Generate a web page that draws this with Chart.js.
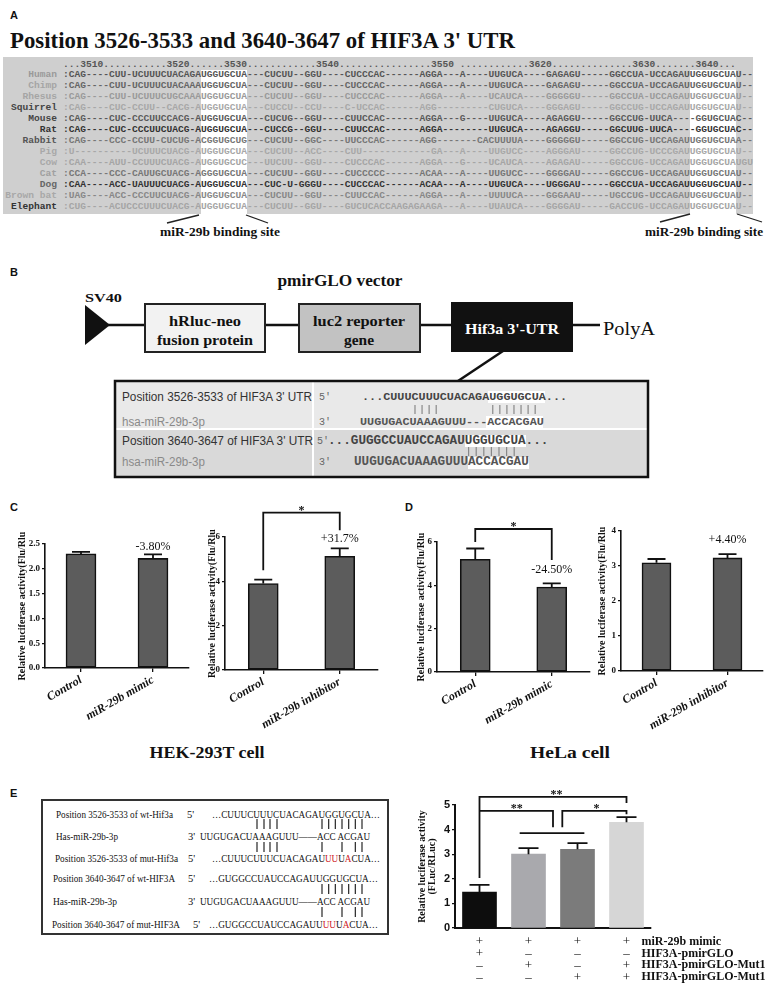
<!DOCTYPE html>
<html>
<head>
<meta charset="utf-8">
<script src="https://cdn.jsdelivr.net/npm/chart.js@4.4.0/dist/chart.umd.min.js"></script>
<style>
html, body { margin: 0; padding: 0; background: #fff; }
#page { position: relative; width: 767px; height: 991px; overflow: hidden; }
#art { position: absolute; left: 0; top: 0; }
canvas { position: absolute; }
</style>
</head>
<body>
<div id="page">
<svg id="art" width="767" height="991" xmlns="http://www.w3.org/2000/svg"></svg>
<canvas id="c1" style="left:0px;top:500px" width="200" height="230"></canvas>
<canvas id="c2" style="left:185px;top:490px" width="200" height="240"></canvas>
<canvas id="d1" style="left:395px;top:490px" width="200" height="240"></canvas>
<canvas id="d2" style="left:580px;top:490px" width="187" height="240"></canvas>
<canvas id="e1" style="left:395px;top:780px" width="372" height="211"></canvas>
</div>
<script>
/* valores */
var cLabels1 = ["Control", "miR-29b mimic"];
var cValues1 = [2.30, 2.21];
var cErrors1 = [0.04, 0.08];
var cPct1 = ["", "-3.80%"];

var cLabels2 = ["Control", "miR-29b inhibitor"];
var cValues2 = [3.90, 5.13];
var cErrors2 = [0.18, 0.36];
var cPct2 = ["", "+31.7%"];

var dLabels1 = ["Control", "miR-29b mimic"];
var dValues1 = [5.20, 3.92];
var dErrors1 = [0.50, 0.17];
var dPct1 = ["", "-24.50%"];

var dLabels2 = ["Control", "miR-29b inhibitor"];
var dValues2 = [3.09, 3.23];
var dErrors2 = [0.11, 0.11];
var dPct2 = ["", "+4.40%"];

var eGroups = ["1", "2", "3", "4"];
var eValues = [1.46, 3.00, 3.20, 4.30];
var eErrors = [0.29, 0.25, 0.25, 0.21];
var eRows = ["miR-29b mimic", "HIF3A-pmirGLO", "HIF3A-pmirGLO-Mut1", "HIF3A-pmirGLO-Mut1"];
var eSigns = [
	["+", "+", "+", "+"],
	["+", "\u2013", "\u2013", "\u2013"],
	["\u2013", "+", "\u2013", "+"],
	["\u2013", "\u2013", "+", "+"]
];

/* ---------- desenho em svg (paineis A, B e E) ---------- */
var svg = document.getElementById("art");
var NS = "http://www.w3.org/2000/svg";
function el(tag, attrs, parent) {
	var e = document.createElementNS(NS, tag);
	for (var k in attrs) e.setAttribute(k, attrs[k]);
	(parent || svg).appendChild(e);
	return e;
}
function txt(x, y, s, o) {
	o = o || {};
	var e = el("text", {
		x: x, y: y,
		"font-family": o.font || "Liberation Serif",
		"font-size": o.size || 12,
		"font-weight": o.weight || "normal",
		"font-style": o.style || "normal",
		fill: o.fill || "#111",
		"text-anchor": o.anchor || "start",
		"dominant-baseline": "central"
	});
	if (o.len) {
		e.setAttribute("textLength", o.len);
		e.setAttribute("lengthAdjust", "spacingAndGlyphs");
	}
	e.style.whiteSpace = "pre";
	e.textContent = s;
	return e;
}
function line(x1, y1, x2, y2, w, c) {
	el("line", { x1: x1, y1: y1, x2: x2, y2: y2, stroke: c || "#111", "stroke-width": w || 1 });
}
var MONO = "Liberation Mono";
var SANS = "Liberation Sans";

/* Painel A */
txt(10, 15, "A", { font: SANS, size: 11, weight: "bold" });
txt(10, 40, "Position 3526-3533 and 3640-3647 of HIF3A 3' UTR", { size: 23, weight: "bold", len: 505 });
el("rect", { x: 3, y: 57, width: 750, height: 157, fill: "#cfcfcf" });
el("rect", { x: 201, y: 70, width: 46, height: 144, fill: "#fff" });
el("rect", { x: 690, y: 70, width: 46, height: 144, fill: "#fff" });

var header = [];
for (var i = 0; i < 117; i++) header.push(".");
header[68] = " ";
[[3, "3510"], [18, "3520"], [28, "3530"], [44, "3540"], [64, "3550"], [81, "3620"], [99, "3630"], [110, "3640"]].forEach(function(p) {
	for (var j = 0; j < 4; j++) header[p[0] + j] = p[1][j];
});
header = header.join("");
txt(63, 64, header, { font: MONO, size: 9.6, weight: "bold", fill: "#555", len: header.length * 5.75 });

var species = [
	["Human", ":CAG----CUU-UCUUUCUACAGA", "UGGUGCUA", "---CUCUU--GGU----CUCCCAC------AGGA---A----UUGUCA----GAGAGU-----GGCCUA-UCCAGAU", "UGGUGCUA", "U--", "#9a9a9a", "#555"],
	["Chimp", ":CAG----CUU-UCUUUCUACAAA", "UGGUGCUA", "---CUCUU--GGU----CUCCCAC------AGGA---A----UUGUCA----GAGAGU-----GGCCUA-UCCAGAU", "UGGUGCUA", "U--", "#a5a5a5", "#666"],
	["Rhesus", ":CAG----CUU-UCUUUCUGCAAA", "UGGUGCUA", "---CUCUU--GGU----CUCCCAC------AGGA---A----UCAUCA----GGGGGU-----GGCCUA-UCCAGAU", "UGGUGCUA", "U--", "#a5a5a5", "#9a9a9a"],
	["Squirrel", ":CAG----CUC-CCUU--CACG-A", "UGGUGCUA", "---CUCCU--CCU----C-UCCAC------AGG---------CUGUCA----GGGAGU-----GGCCUG-UCCAGAU", "UGGUGCUA", "U--", "#444", "#a8a8a8"],
	["Mouse", ":CAG----CUC-CCCUUCCACG-A", "UGGUGCUA", "---CUCUG--GGU----CUUCCAC------AGGA---G----UUGUCA----AGAGGU-----GGCCUG-UUCA---", "-GGUGCUA", "C--", "#444", "#5a5a5a"],
	["Rat", ":CAG----CUC-CCCUUCUACG-A", "UGGUGCUA", "---CUCCG--GGU----CUUCCAC------AGGA--------UUGUCA----AGAGGU-----GGCUUG-UUCA---", "-GGUGCUA", "C--", "#333", "#333"],
	["Rabbit", ":CAG----CCC-CCUU-CUCUG-A", "CGGUGCUG", "---CUCUU--GGC----UUCCCAC------AGG-------CACUUUUA----GGGGGU-----GGCCUG-UCCAGAU", "UGGUGCUA", "A--", "#555", "#777"],
	["Pig", ":U----------UCUUUCUACG-A", "UGGUGCUA", "---CUCUU--ACC----CUU------------GA---A----UUGUCC----AGGGAU-----GGCCUG-UCCCGAU", "UGGUGCUA", "U--", "#a8a8a8", "#a8a8a8"],
	["Cow", ":CAA----AUU-CCUUUCUACG-A", "UGGUGCUC", "---UUCUU--GGU----CUCCCAC------AGGA---G----UCAUCA----AGAGAU-----GGCCUG-UCCAGAU", "UGGUGCUA", "UGU", "#a8a8a8", "#a5a5a5"],
	["Cat", ":CCA----CCC-CAUUGCUACG-A", "GGGUGCUA", "---CUCUU--GGU----CUCCCCC------ACAA---A----UUGUCC----GGGGAU-----GGCCUG-UCCAGAU", "UGGUGCUA", "U--", "#a0a0a0", "#777"],
	["Dog", ":CAA----ACC-UAUUUCUACG-A", "UGGUGCUA", "---CUC-U-GGGU----CUCCCAC------ACAA---A----UUGUCA----UGGGAU-----GGCCUA-UCCAGAU", "UGGUGCUA", "U--", "#666", "#333"],
	["Brown bat", ":UAG----ACC-CCCUUCUACG-A", "UGGUGCUA", "---CUCUU--GGU----CUUCCAC------AGGA---A----UUUUCA----GGGAAU-----UGCCUG-UCCAGAU", "UGGUGCUA", "U--", "#a8a8a8", "#888"],
	["Elephant", ":CUG----ACUCCCUUUCUACG-A", "UGGUGCUA", "---CUCUU--GGU----GUCUCACCAAGAGAAGA---A----UUAUCA----GGGGAU-----GACCUG-UCCAGAU", "UGGUGCUA", "U--", "#333", "#a5a5a5"]
];
species.forEach(function(s, i) {
	var y = 74 + i * 11.08;
	var seq = s[1] + s[2] + s[3] + s[4] + s[5];
	txt(57, y, s[0], { font: MONO, size: 9.6, weight: "bold", fill: s[6], anchor: "end", len: s[0].length * 5.75 });
	txt(63, y, seq, { font: MONO, size: 9.6, weight: "bold", fill: s[7], len: seq.length * 5.75 });
});

line(167, 223, 199, 215, 1.3, "#222");
line(246, 215, 268, 223, 1.3, "#222");
line(660, 222, 690, 214, 1.3, "#222");
line(737, 214, 762, 222, 1.3, "#222");
txt(220, 231, "miR-29b binding site", { size: 13, weight: "bold", anchor: "middle", len: 120 });
txt(704, 231, "miR-29b binding site", { size: 13, weight: "bold", anchor: "middle", len: 118 });

/* Painel B */
txt(10, 272, "B", { font: SANS, size: 11, weight: "bold" });
txt(340, 280, "pmirGLO vector", { size: 16, weight: "bold", anchor: "middle", len: 125 });
txt(85, 297, "SV40", { size: 13, weight: "bold", len: 37 });
line(108, 325, 600, 325, 2.5);
el("polygon", { points: "85,305 110,325 85,345", fill: "#111" });
el("rect", { x: 145, y: 304, width: 120, height: 48, fill: "#f2f2f2", stroke: "#222", "stroke-width": 2 });
txt(205, 321, "hRluc-neo", { size: 14, weight: "bold", anchor: "middle", len: 72 });
txt(205, 340, "fusion protein", { size: 14, weight: "bold", anchor: "middle", len: 96 });
el("rect", { x: 299, y: 304, width: 121, height: 48, fill: "#c2c2c2", stroke: "#222", "stroke-width": 2 });
txt(359, 321, "luc2 reporter", { size: 14, weight: "bold", anchor: "middle", len: 92 });
txt(359, 340, "gene", { size: 14, weight: "bold", anchor: "middle", len: 30 });
el("rect", { x: 452, y: 303, width: 120, height: 48, fill: "#111", stroke: "#111", "stroke-width": 2 });
txt(512, 329, "Hif3a 3'-UTR", { size: 14, weight: "bold", anchor: "middle", fill: "#fff", len: 94 });
txt(603, 329, "PolyA", { size: 18, len: 52 });
line(503, 351, 458, 381, 2.5);

el("rect", { x: 115, y: 381, width: 533, height: 48, fill: "#e9e9e9" });
el("rect", { x: 115, y: 429, width: 533, height: 48, fill: "#d9d9d9" });
line(313, 381, 313, 477, 2, "#fff");
line(115, 429, 648, 429, 2, "#fff");
/* realces brancos dos sitios */
el("rect", { x: 488, y: 391, width: 57, height: 12, fill: "#fff" });
el("rect", { x: 486, y: 416, width: 57, height: 12, fill: "#fff" });
el("rect", { x: 465, y: 435, width: 61, height: 12, fill: "#fff" });
el("rect", { x: 468, y: 457, width: 61, height: 12, fill: "#fff" });
el("rect", { x: 115, y: 381, width: 533, height: 96, fill: "none", stroke: "#111", "stroke-width": 2.5 });

txt(122, 397, "Position 3526-3533 of HIF3A 3' UTR", { font: SANS, size: 12, fill: "#333", len: 190 });
txt(122, 422, "hsa-miR-29b-3p", { font: SANS, size: 12, fill: "#8a8a8a", len: 83 });
txt(122, 441, "Position 3640-3647 of HIF3A 3' UTR", { font: SANS, size: 12, fill: "#333", len: 191 });
txt(122, 462, "hsa-miR-29b-3p", { font: SANS, size: 12, fill: "#8a8a8a", len: 83 });
txt(319, 397, "5'", { font: MONO, size: 10, fill: "#666" });
txt(319, 422, "3'", { font: MONO, size: 10, fill: "#666" });
txt(317, 441, "5'", { font: MONO, size: 10, fill: "#666" });
txt(319, 462, "3'", { font: MONO, size: 10, fill: "#666" });
var s1 = "...CUUUCUUUCUACAGAUGGUGCUA...";
var s2 = "UUGUGACUAAAGUUU---ACCACGAU";
var s3 = "...GUGGCCUAUCCAGAUUGGUGCUA...";
var s4 = "UUGUGACUAAAGUUUACCACGAU";
txt(362, 397, s1, { font: MONO, size: 11.8, weight: "bold", fill: "#444", len: s1.length * 7.07 });
txt(360, 422, s2, { font: MONO, size: 11.8, weight: "bold", fill: "#555", len: s2.length * 7.07 });
txt(328, 441, s3, { font: MONO, size: 12.6, weight: "bold", fill: "#444", len: s3.length * 7.6 });
txt(354, 462, s4, { font: MONO, size: 12.6, weight: "bold", fill: "#555", len: s4.length * 7.6 });
[7, 8, 9, 10, 18, 19, 20, 21, 22, 23, 24].forEach(function(k) {
	var x = 362 + k * 7.07 + 3.5;
	line(x, 405, x, 414, 1.2, "#888");
});
[18, 19, 20, 21, 22, 23, 24].forEach(function(k) {
	var x = 328 + k * 7.6 + 3.8;
	line(x, 447, x, 456, 1.2, "#888");
});

/* Paineis C e D: titulos das celulas */
txt(10, 507, "C", { font: SANS, size: 11, weight: "bold" });
txt(405, 507, "D", { font: SANS, size: 11, weight: "bold" });
txt(207, 752, "HEK-293T cell", { size: 16, weight: "bold", anchor: "middle", len: 115 });
txt(570, 752, "HeLa cell", { size: 16, weight: "bold", anchor: "middle", len: 80 });

/* Painel E: sequencias */
txt(10, 793, "E", { font: SANS, size: 11, weight: "bold" });
el("rect", { x: 42, y: 800, width: 346, height: 134, fill: "#fff", stroke: "#333", "stroke-width": 2 });
function seqRow(x, y, parts, len) {
	var t = el("text", { x: x, y: y, "font-family": "Liberation Serif", "font-size": 11, fill: "#111",
		"dominant-baseline": "central", textLength: len, lengthAdjust: "spacingAndGlyphs" });
	t.style.whiteSpace = "pre";
	parts.forEach(function(p) {
		var ts = el("tspan", { fill: p[1] || "#111" }, t);
		ts.textContent = p[0];
	});
}
var RED = "#d0201e";
txt(56, 814, "Position 3526-3533 of wt-Hif3a", { size: 10.5, len: 117 });
txt(187, 814, "5'", { size: 10.5 });
seqRow(212, 814, [["\u2026CUUUCUUUCUACAGAUGGUGCUA\u2026"]], 168);
txt(56, 836, "Has-miR-29b-3p", { size: 10.5, len: 62 });
txt(188, 836, "3'", { size: 10.5 });
seqRow(200, 836, [["UUGUGACUAAAGUUU\u2014\u2014ACC ACGAU"]], 170);
txt(55, 858, "Position 3526-3533 of mut-Hif3a", { size: 10.5, len: 123 });
txt(188, 858, "5'", { size: 10.5 });
seqRow(212, 858, [["\u2026CUUUCUUUCUACAGAU"], ["UU", RED], ["U"], ["A", RED], ["CUA\u2026"]], 168);
txt(53, 878, "Position 3640-3647 of wt-HIF3A", { size: 10.5, len: 122 });
txt(188, 878, "5'", { size: 10.5 });
seqRow(209, 878, [["\u2026GUGGCCUAUCCAGAUUGGUGCUA\u2026"]], 169);
txt(53, 901, "Has-miR-29b-3p", { size: 10.5, len: 64 });
txt(188, 901, "3'", { size: 10.5 });
seqRow(200, 901, [["UUGUGACUAAAGUUU\u2014\u2014ACC ACGAU"]], 170);
txt(52, 924, "Position 3640-3647 of mut-HIF3A", { size: 10.5, len: 128 });
txt(193, 924, "5'", { size: 10.5 });
seqRow(209, 924, [["\u2026GUGGCCUAUCCAGAUU"], ["UU", RED], ["U"], ["A", RED], ["CUA\u2026"]], 169);
var four = [257, 264, 270, 277];
var seven = [322, 328.7, 335.3, 342, 348.7, 355.3, 362];
var partial = [322, 342, 355.3, 362];
function pairs(xs, y) { xs.forEach(function(x) { line(x, y - 5, x, y + 5, 1.1, "#111"); }); }
pairs(four, 824); pairs(seven, 824);
pairs(four, 847); pairs(partial, 847);
pairs(seven, 889);
pairs(partial, 912);

/* ---------- graficos Chart.js ---------- */
Chart.defaults.font.family = "'Liberation Serif', 'Times New Roman', serif";
Chart.defaults.color = "#111";

var extras = {
	id: "extras",
	afterDatasetsDraw: function(chart, args, opts) {
		var ctx = chart.ctx, xs = chart.scales.x, ys = chart.scales.y;
		var ds = chart.data.datasets[0];
		var meta = chart.getDatasetMeta(0);
		ctx.save();
		ctx.strokeStyle = "#111";
		ctx.lineWidth = opts.errWidth;
		ctx.fillStyle = "#111";
		meta.data.forEach(function(bar, i) {
			var top = ys.getPixelForValue(ds.data[i] + ds.errors[i]);
			ctx.beginPath();
			ctx.moveTo(bar.x, bar.y);
			ctx.lineTo(bar.x, top);
			ctx.moveTo(bar.x - opts.cap / 2, top);
			ctx.lineTo(bar.x + opts.cap / 2, top);
			ctx.stroke();
			if (ds.pct && ds.pct[i]) {
				ctx.font = "12px 'Liberation Serif'";
				ctx.textAlign = "center";
				ctx.textBaseline = "bottom";
				ctx.fillText(ds.pct[i], bar.x, top - opts.pctGap);
			}
		});
		ctx.lineWidth = opts.sigWidth;
		(opts.marks || []).forEach(function(m) {
			var xa = xs.getPixelForValue(m.a), xb = xs.getPixelForValue(m.b), yt = ys.getPixelForValue(m.y);
			ctx.beginPath();
			if (m.legA !== undefined) {
				ctx.moveTo(xa, ys.getPixelForValue(m.legA));
				ctx.lineTo(xa, yt);
			} else {
				ctx.moveTo(xa, yt);
			}
			ctx.lineTo(xb, yt);
			if (m.legB !== undefined) ctx.lineTo(xb, ys.getPixelForValue(m.legB));
			ctx.stroke();
			if (m.text) {
				ctx.font = "bold 12px 'Liberation Serif'";
				ctx.textAlign = "center";
				ctx.textBaseline = "alphabetic";
				var tx = m.tx !== undefined ? xs.getPixelForValue(m.tx) : (xa + xb) / 2;
				ctx.fillText(m.text, tx, yt + 1);
			}
		});
		ctx.restore();
	}
};

var signTable = {
	id: "signTable",
	afterDraw: function(chart, args, opts) {
		if (!opts.rows) return;
		var ctx = chart.ctx, xs = chart.scales.x, base = chart.chartArea.bottom;
		ctx.save();
		ctx.fillStyle = "#111";
		ctx.textBaseline = "middle";
		opts.rows.forEach(function(row, r) {
			var yy = base + opts.first + r * opts.gap;
			ctx.font = "13px 'Liberation Serif'";
			ctx.textAlign = "center";
			row.forEach(function(s, i) { ctx.fillText(s, xs.getPixelForValue(i), yy); });
			ctx.font = "bold 12px 'Liberation Serif'";
			ctx.textAlign = "left";
			ctx.fillText(opts.names[r], xs.getPixelForValue(row.length - 1) + opts.dx, yy);
		});
		ctx.restore();
	}
};

function barChart(id, labels, values, errors, pct, o) {
	return new Chart(document.getElementById(id), {
		type: "bar",
		data: {
			labels: labels,
			datasets: [{
				data: values,
				errors: errors,
				pct: pct,
				backgroundColor: o.colors || "#5c5c5c",
				borderColor: "#111",
				borderWidth: o.border === undefined ? 1.6 : o.border,
				borderSkipped: false,
				barThickness: o.barW
			}]
		},
		options: {
			responsive: false,
			animation: false,
			devicePixelRatio: 1,
			layout: { padding: { top: o.padTop, right: o.padRight, left: 0, bottom: 0 } },
			plugins: {
				legend: { display: false },
				tooltip: { enabled: false },
				extras: { cap: o.cap || 18, errWidth: 1.8, sigWidth: 1.8, pctGap: o.pctGap || 4, marks: o.marks || [] },
				signTable: o.signs || {}
			},
			scales: {
				x: {
					grid: { display: o.xTicks !== false, drawOnChartArea: false, drawTicks: true, tickLength: 4, offset: false, color: "#111", lineWidth: 1.3 },
					border: { display: true, color: "#111", width: o.axisW || 1.6 },
					ticks: {
						display: o.xLabels !== false,
						autoSkip: false,
						minRotation: 30,
						maxRotation: 30,
						padding: 1,
						color: "#111",
						font: { size: 12, weight: "bold", style: "italic" }
					},
					afterFit: function(s) { s.height = o.xH; }
				},
				y: {
					min: 0,
					max: o.max,
					ticks: {
						stepSize: o.step,
						padding: 2,
						color: "#111",
						font: o.tickFont || { size: 9, weight: "bold" },
						callback: function(v) { return o.dec ? v.toFixed(o.dec) : v; }
					},
					grid: { drawOnChartArea: false, drawTicks: true, tickLength: 3, color: "#111", lineWidth: 1.3 },
					border: { display: true, color: "#111", width: o.axisW || 1.6 },
					title: {
						display: true,
						text: o.yTitle,
						color: "#111",
						font: o.titleFont || { size: 10, weight: "bold", lineHeight: 1 },
						padding: { top: o.titlePad, bottom: 0 }
					},
					afterFit: function(s) { s.width = o.yW; }
				}
			}
		},
		plugins: [extras, signTable]
	});
}

var yTitleCD = "Relative luciferase activity(Flu/Rlu";

barChart("c1", cLabels1, cValues1, cErrors1, cPct1, {
	max: 2.5, step: 0.5, dec: 1, yW: 45, xH: 62, padTop: 44, padRight: 11, barW: 30, titlePad: 17, pctGap: 2, yTitle: yTitleCD
});
barChart("c2", cLabels2, cValues2, cErrors2, cPct2, {
	max: 6, step: 2, yW: 40, xH: 60, padTop: 47, padRight: 7, barW: 30, titlePad: 22, pctGap: 3, yTitle: yTitleCD,
	marks: [{ a: 0, b: 1, y: 7.1, legA: 4.5, legB: 6.3, text: "*" }]
});
barChart("d1", dLabels1, dValues1, dErrors1, dPct1, {
	max: 6, step: 2, yW: 42, xH: 58, padTop: 52, padRight: 5, barW: 30, titlePad: 21, pctGap: 8, yTitle: yTitleCD,
	marks: [{ a: 0, b: 1, y: 6.6, legA: 6.0, legB: 5.17, text: "*" }]
});
barChart("d2", dLabels2, dValues2, dErrors2, dPct2, {
	max: 4, step: 1, yW: 41, xH: 59, padTop: 41, padRight: 4, barW: 29, titlePad: 17, pctGap: 8, yTitle: yTitleCD
});
barChart("e1", eGroups, eValues, eErrors, null, {
	max: 5, step: 1, yW: 60, xH: 63, padTop: 25, padRight: 116, barW: 34, border: 0, cap: 20,
	colors: ["#0d0d0d", "#a9a9ad", "#7b7b7b", "#d6d6d6"],
	xTicks: false, xLabels: false, axisW: 2,
	tickFont: { family: "'Liberation Sans', sans-serif", size: 11, weight: "bold" },
	titleFont: { size: 10, weight: "bold", lineHeight: 1.05 },
	titlePad: 22, yTitle: ["Relative luciferase activity", "(FLuc/RLuc)"],
	marks: [
		{ a: 0, b: 3, y: 5.33, legA: 2.03, legB: 5.08, text: "**", tx: 1.57 },
		{ a: 0, b: 1.5, y: 4.76, legB: 4.1, text: "**", tx: 0.76 },
		{ a: 1.69, b: 3, y: 4.76, legA: 4.1, legB: 4.62, text: "*", tx: 2.39 },
		{ a: 0.82, b: 2.14, y: 3.86 }
	],
	signs: { rows: eSigns, names: eRows, first: 14, gap: 11.7, dx: 15 }
});
</script>
</body>
</html>
